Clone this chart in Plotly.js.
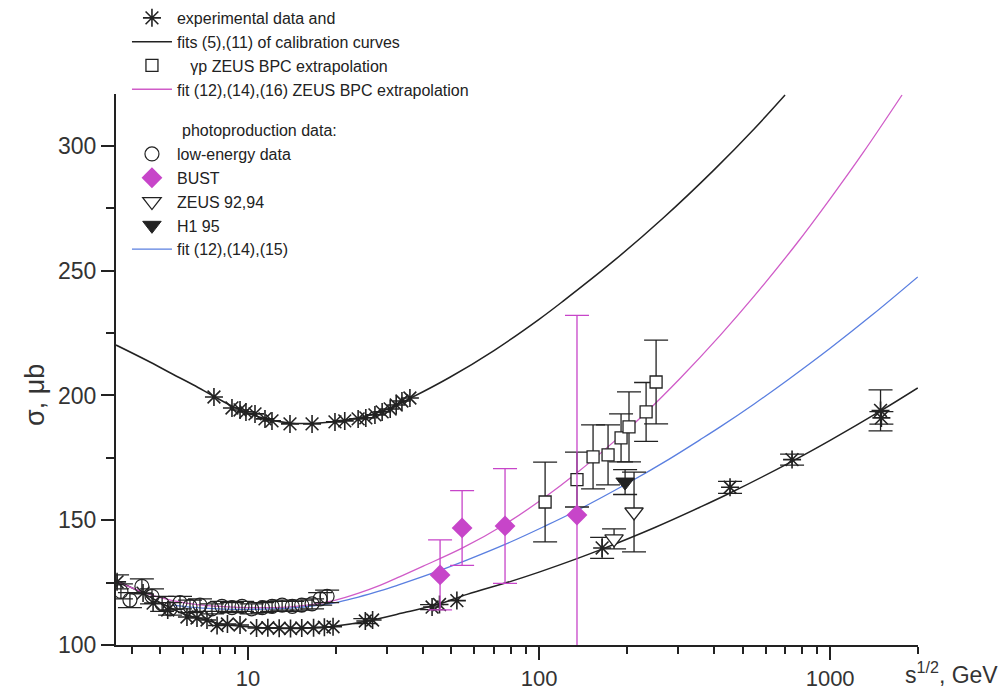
<!DOCTYPE html>
<html>
<head>
<meta charset="utf-8">
<script src="https://cdn.plot.ly/plotly-3.0.1.min.js"></script>
<style>html,body{margin:0;padding:0;background:#fff}#chart{width:1006px;height:691px}</style>
</head>
<body>
<div id="chart"></div>
<script>
// ---- data (sqrt(s) in GeV, sigma in microbarn) ----
// upper calibration curve: data and fit
var calUpX = [7.64,8.81,9.39,9.84,10.57,11.44,12.09,13.94,16.6,19.9,21.5,23.9,25.4,27.3,28.9,30.8,32.3,33.8,36.0];
var calUpY = [199.4,195.0,194.2,193.4,192.6,190.6,189.8,188.6,188.6,189.4,189.8,190.6,191.0,192.2,193.4,194.6,196.2,197.8,199.0];
var fitUpX = [3.52,4.5,5.5,6.5,7.64,9,10.5,12,13.9,16.3,19,21.5,25,30,36,49.4,70,100,121,180,267,400,550,700];
var fitUpY = [220.2,214,208.6,204.2,199.6,195.2,192,190.2,189,188.8,189.3,190.2,191.5,194.4,198.8,207.3,218,230.5,237.8,253.8,271.1,290.5,307,320.4];

// lower calibration curve: data and fit
var calLoX = [4.36,4.72,5.3,6.17,6.68,7.23,7.83,8.5,9.39,10.7,11.7,12.8,14.0,15.3,16.8,18.3,19.6,26.8,45.5,52.2];
var calLoY = [120.8,116.8,114,111.2,110.8,110,107.8,108.4,108,106.8,106.9,106.7,106.6,106.8,106.9,107.1,107.3,110,116.2,117.8];
var calErrX = [3.55,25.3,42.9,164.7,453,740,1490,1500];
var calErrY = [125.3,109.6,115.2,138.9,163.2,174.3,194,191];
var calErrE = [2.8,1,1,4.2,2.4,2.2,8.2,2.5];
var fitLoX = [3.52,4.4,5,6,7,8,10,13,16,20,25,35,45,56.6,80,100,135,162,250,357,453,740,1000,1486,2000];
var fitLoY = [126,120.5,117,112.5,110.3,108.5,107.3,106.7,106.8,107.6,109.3,113.2,116.3,120.3,125.5,129.2,134.6,138.1,147.1,155.2,160.9,173.6,182,193.7,203];

// gamma-p ZEUS BPC extrapolation
var bpcX = [104.9,135,153.3,172.6,191.3,203.7,233.2,252.4];
var bpcY = [157.3,166.3,175.4,176.2,183,187.4,193.4,205.4];
var bpcE = [16,11,12.8,12,9.6,14,11.8,16.8];
var pinkX = [3.6,4.3,5,6,7,8.5,10,12,14,17,20,24,28.4,33.3,40,54.4,76.4,105,135,180,233,305,419,550,770,1000,1300,1766];
var pinkY = [125,121.5,119,117,116,115.3,115,115,115.3,116.4,118,120.8,123.9,127.4,131.6,138.8,148.4,159.3,169,181.3,193.2,206.8,224.1,240,261.1,278.8,297.4,320.4];

// photoproduction data
var lowX = [3.66,3.93,4.32,4.68,5.07,5.40,5.84,6.32,6.84,7.52,8.14,8.81,9.54,10.3,11.2,12.1,13.1,14.2,15.3,16.6,17.7,18.7];
var lowY = [121.5,118,123.5,119.5,116.5,114.5,117,115.5,116,114.5,115.5,115,115.5,114.5,115,115.5,116,115.5,116,116.5,118.5,119.5];
var lowE = [3,3,3,3,3,2.5,2.5,2.5,2.5,2,2,2,2,2,2,2,2,2,2,2,2.5,2.5];
var bustX = [45.7,54.4,76.4,135];
var bustY = [128.1,146.9,147.7,152.1];
var bustE = [14,15,23,80];
var zeusX = [181,212];
var zeusY = [142.5,153.3];
var zeusE = [4,16];
var h1X = [197.5];
var h1Y = [165.3];
var h1E = [5];
var blueX = [5.5,7,10,14,20,28.4,33.3,45.7,57,76.4,105,135,200,280,357,419,550,717,1000,1400,2000];
var blueY = [116,114.8,114.3,114.8,117,121.7,124.3,129.9,134.2,140.3,147.7,153.9,164.6,174.5,182.2,187.4,196.7,206.3,218.9,232.4,247.5];

// axis ticks
var xTickVals = [10,100,1000];
var xTickText = ['10','100','1000'];
var xMinorVals = [4,5,6,7,8,9,20,30,40,50,60,70,80,90,200,300,400,500,600,700,800,900,2000];

var FONT = 'Liberation Sans, Arial, sans-serif';
var BLACK = '#222';
var PINK = '#d05cc8';
var BLUE = '#5a7fe0';
var MAG = '#c745c9';

function errBar(arr, color) {
  return {type:'data', array:arr, visible:true, color:color, thickness:1.3, width:12};
}

var traces = [
  {x:fitUpX, y:fitUpY, mode:'lines', line:{color:BLACK, width:1.5, shape:'spline'},
   name:'fits (5),(11) of calibration curves', legend:'legend', legendrank:2},
  {x:fitLoX, y:fitLoY, mode:'lines', line:{color:BLACK, width:1.5, shape:'spline'}, showlegend:false},
  {x:pinkX, y:pinkY, mode:'lines', line:{color:PINK, width:1.3, shape:'spline'},
   name:'fit (12),(14),(16) ZEUS BPC extrapolation', legend:'legend', legendrank:4},
  {x:blueX, y:blueY, mode:'lines', line:{color:BLUE, width:1.3, shape:'spline'},
   name:'fit (12),(14),(15)', legend:'legend2', legendrank:5},
  {x:lowX, y:lowY, mode:'markers', error_y:errBar(lowE, BLACK),
   marker:{symbol:'circle-open', size:14, color:BLACK, line:{width:1.2, color:BLACK}},
   name:'low-energy data', legend:'legend2', legendrank:1},
  {x:calUpX, y:calUpY, mode:'markers', showlegend:false,
   marker:{symbol:'asterisk-open', size:15, color:BLACK, line:{width:1.6, color:BLACK}}},
  {x:calErrX, y:calErrY, mode:'markers', showlegend:false, error_y:errBar(calErrE, BLACK),
   marker:{symbol:'asterisk-open', size:15, color:BLACK, line:{width:1.6, color:BLACK}}},
  {x:calLoX, y:calLoY, mode:'markers',
   marker:{symbol:'asterisk-open', size:15, color:BLACK, line:{width:1.6, color:BLACK}},
   name:'experimental data and', legend:'legend', legendrank:1},
  {x:bpcX, y:bpcY, mode:'markers', error_y:errBar(bpcE, BLACK),
   marker:{symbol:'square', size:12, color:'#fff', line:{width:1.3, color:BLACK}},
   name:'\u00a0\u00a0\u00a0\u03b3p ZEUS BPC extrapolation', legend:'legend', legendrank:3},
  {x:bustX, y:bustY, mode:'markers', error_y:errBar(bustE, MAG),
   marker:{symbol:'diamond', size:16, color:MAG, line:{width:0}},
   name:'BUST', legend:'legend2', legendrank:2},
  {x:zeusX, y:zeusY, mode:'markers', error_y:errBar(zeusE, BLACK),
   marker:{symbol:'triangle-down', size:16, color:'#fff', line:{width:1.3, color:BLACK}},
   name:'ZEUS 92,94', legend:'legend2', legendrank:3},
  {x:h1X, y:h1Y, mode:'markers', error_y:errBar(h1E, BLACK),
   marker:{symbol:'triangle-down', size:16, color:BLACK, line:{width:1, color:BLACK}},
   name:'H1 95', legend:'legend2', legendrank:4}
];

var legFont = {family:FONT, size:16, color:BLACK};
var layout = {
  width:1006, height:691,
  margin:{l:116, r:88, t:94, b:46, autoexpand:false},
  paper_bgcolor:'#fff', plot_bgcolor:'#fff',
  font:{family:FONT, color:BLACK},
  showlegend:true,
  xaxis:{
    type:'log', range:[Math.log10(3.52), Math.log10(2004)],
    showgrid:false, zeroline:false,
    showline:true, linecolor:BLACK, linewidth:2,
    tickmode:'array', tickvals:xTickVals, ticktext:xTickText,
    ticks:'outside', ticklen:13, tickwidth:2, tickcolor:BLACK,
    ticklabelstandoff:0,
    minor:{tickmode:'array', tickvals:xMinorVals, ticks:'outside', ticklen:7, tickwidth:2, tickcolor:BLACK, showgrid:false},
    tickfont:{family:FONT, size:22, color:'#333'}
  },
  yaxis:{
    range:[100, 320.8],
    showgrid:false, zeroline:false,
    showline:true, linecolor:BLACK, linewidth:2,
    dtick:50, tick0:100,
    ticks:'outside', ticklen:13, tickwidth:2, tickcolor:BLACK,
    minor:{dtick:25, ticks:'outside', ticklen:8, tickwidth:2, tickcolor:BLACK, showgrid:false},
    tickfont:{family:FONT, size:23, color:'#333'}
  },
  legend:{xref:'container', yref:'container', x:0.1262, y:0.9986, xanchor:'left', yanchor:'top',
          bgcolor:'rgba(0,0,0,0)', font:legFont, itemwidth:40, tracegroupgap:0},
  legend2:{xref:'container', yref:'container', x:0.1262, y:0.8017, xanchor:'left', yanchor:'top',
           bgcolor:'rgba(0,0,0,0)', font:legFont, itemwidth:40, tracegroupgap:0},
  shapes:[
    {type:'line', xref:'paper', yref:'paper', x0:-0.015, x1:0, y0:0, y1:0, line:{color:BLACK, width:2}}
  ],
  annotations:[
    {xref:'paper', yref:'paper', x:0.0798, y:0.933, xanchor:'left', yanchor:'middle',
     text:'photoproduction data:', showarrow:false, font:legFont},
    {xref:'paper', yref:'paper', x:-0.101, y:0.4537, xanchor:'center', yanchor:'middle', textangle:-90,
     text:'\u03c3, \u03bcb', showarrow:false, font:{family:FONT, size:27, color:'#333'}},
    {xref:'paper', yref:'paper', x:1.102, y:-0.051, xanchor:'right', yanchor:'middle',
     text:'s<sup>1/2</sup>, GeV', showarrow:false, font:{family:FONT, size:23, color:'#333'}}
  ]
};

Plotly.newPlot('chart', traces, layout, {displayModeBar:false, staticPlot:true});
</script>
</body>
</html>
